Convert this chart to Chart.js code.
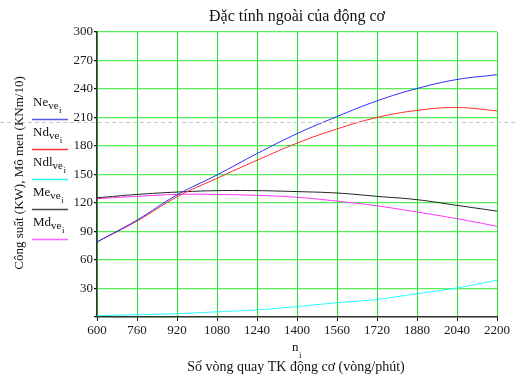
<!DOCTYPE html>
<html>
<head>
<meta charset="utf-8">
<script src="https://cdn.jsdelivr.net/npm/chart.js@4"></script>
<style>
  body { margin: 0; background: #fff; }
  canvas { display: block; }
</style>
</head>
<body>
<canvas id="myChart" width="515" height="374"></canvas>
<script>
// engine speed (vong/phut)
const rpm = [600, 760, 920, 1080, 1240, 1400, 1560, 1720, 1880, 2040, 2200]
// series
const Ne  = [79, 102, 128.5, 149.5, 172, 193, 211, 227.5, 240.5, 250, 255]
const Nd  = [79, 101, 126.5, 146, 165, 183, 198, 210, 217.5, 220.5, 217]
const Ndl = [1.4, 2.4, 3.5, 5.5, 7.5, 11, 15, 18.5, 24.5, 30.6, 38.6]
const Me  = [125.5, 129, 131.5, 133, 133, 132, 130.5, 127, 123.5, 117.5, 111.5]
const Md  = [124.5, 127, 129, 129, 128, 126, 122, 117, 110.5, 103.5, 95.5]

const xTicks = [600, 760, 920, 1080, 1240, 1400, 1560, 1720, 1880, 2040, 2200]
const yTicks = [0, 30, 60, 90, 120, 150, 180, 210, 240, 270, 300]
const markerValue = 205

const title = 'Đặc tính ngoài của động cơ'
const yTitle = 'Công suất (KW), Mô men (KNm/10)'
const xTitle = 'Số vòng quay TK động cơ (vòng/phút)'

const series = [
    { name: 'Ne',  data: Ne,  color: '#2a2aff', legend: '#5a5aee' },
    { name: 'Nd',  data: Nd,  color: '#ff2a2a', legend: '#ee3333' },
    { name: 'Ndl', data: Ndl, color: '#22ffff', legend: '#33eeee' },
    { name: 'Me',  data: Me,  color: '#222222', legend: '#444444' },
    { name: 'Md',  data: Md,  color: '#ff33ff', legend: '#ff66ff' },
]

const FONT = '"Liberation Serif", "Times New Roman", serif'
Chart.defaults.font.family = FONT

function points(arr){
    return rpm.map((x, i) => ({ x: x, y: arr[i] }))
}

// subscripted name like Ne_{ve_i}
function drawSubName(ctx, name, x, y){
    ctx.font = '13px ' + FONT
    ctx.fillText(name, x, y)
    x += ctx.measureText(name).width
    ctx.font = '11px ' + FONT
    ctx.fillText('ve', x, y + 3)
    x += ctx.measureText('ve').width
    ctx.font = '9px ' + FONT
    ctx.fillText('i', x + 0.5, y + 7)
}

const decor = {
    id: 'decor',
    afterDatasetsDraw(chart){
        const ctx = chart.ctx
        const yScale = chart.scales.y
        const W = chart.width
        ctx.save()

        // grey dashed marker line across the page
        const ym = Math.round(yScale.getPixelForValue(markerValue)) + 0.5
        ctx.strokeStyle = '#c8c8c8'
        ctx.lineWidth = 1
        ctx.setLineDash([4, 3])
        ctx.beginPath()
        ctx.moveTo(0, ym)
        ctx.lineTo(W, ym)
        ctx.stroke()
        ctx.setLineDash([])

        ctx.fillStyle = '#111'
        ctx.textBaseline = 'alphabetic'

        // title
        ctx.font = '16px ' + FONT
        ctx.textAlign = 'center'
        ctx.fillText(title, 297, 21)

        // x titles
        ctx.font = '14px ' + FONT
        ctx.fillText(xTitle, 296, 371)
        ctx.textAlign = 'left'
        ctx.font = '13px ' + FONT
        ctx.fillText('n', 292, 351)
        ctx.font = '9px ' + FONT
        ctx.fillText('i', 299, 358)

        // y title
        ctx.save()
        ctx.translate(20, 173)
        ctx.rotate(-Math.PI / 2)
        ctx.textAlign = 'center'
        ctx.textBaseline = 'middle'
        ctx.font = '13px ' + FONT
        ctx.fillText(yTitle, 0, 0)
        ctx.restore()

        // legend
        ctx.textAlign = 'left'
        series.forEach((s, i) => {
            const ty = 106 + i * 30
            ctx.fillStyle = '#111'
            drawSubName(ctx, s.name, 33, ty)
            ctx.strokeStyle = s.legend
            ctx.lineWidth = 1.5
            ctx.beginPath()
            ctx.moveTo(32, ty + 13.5)
            ctx.lineTo(68, ty + 13.5)
            ctx.stroke()
        })
        ctx.restore()
    }
}

new Chart(document.getElementById('myChart'), {
    type: 'line',
    data: {
        datasets: series.map(s => ({
            label: s.name,
            data: points(s.data),
            borderColor: s.color,
            borderWidth: 1,
            pointRadius: 0,
            tension: 0.4,
            fill: false,
        }))
    },
    options: {
        responsive: false,
        animation: false,
        devicePixelRatio: 1,
        layout: { padding: { left: 0, top: 32, right: 18, bottom: 0 } },
        plugins: {
            legend: { display: false },
            tooltip: { enabled: false },
            title: { display: false },
        },
        scales: {
            x: {
                type: 'linear',
                min: 600,
                max: 2200,
                afterBuildTicks: (scale) => { scale.ticks = xTicks.map(v => ({ value: v })) },
                afterFit: (scale) => { scale.height = 57 },
                grid: { color: '#22e022', lineWidth: 1, tickColor: '#111', tickLength: 4 },
                border: { color: '#333', width: 1.5 },
                ticks: {
                    color: '#1a1a1a',
                    font: { family: FONT, size: 13 },
                    padding: 2,
                    maxRotation: 0,
                    autoSkip: false,
                    callback: (v) => String(v),
                },
            },
            y: {
                min: 0,
                max: 300,
                afterBuildTicks: (scale) => { scale.ticks = yTicks.map(v => ({ value: v })) },
                afterFit: (scale) => { scale.width = 97 },
                grid: { color: '#55ee55', lineWidth: 1.3, tickColor: '#111', tickLength: 3 },
                border: { color: '#333', width: 1.5 },
                ticks: {
                    color: '#1a1a1a',
                    font: { family: FONT, size: 13 },
                    padding: 1,
                    callback: (v) => v === 0 ? '' : String(v),
                },
            },
        },
    },
    plugins: [decor],
})
</script>
</body>
</html>
